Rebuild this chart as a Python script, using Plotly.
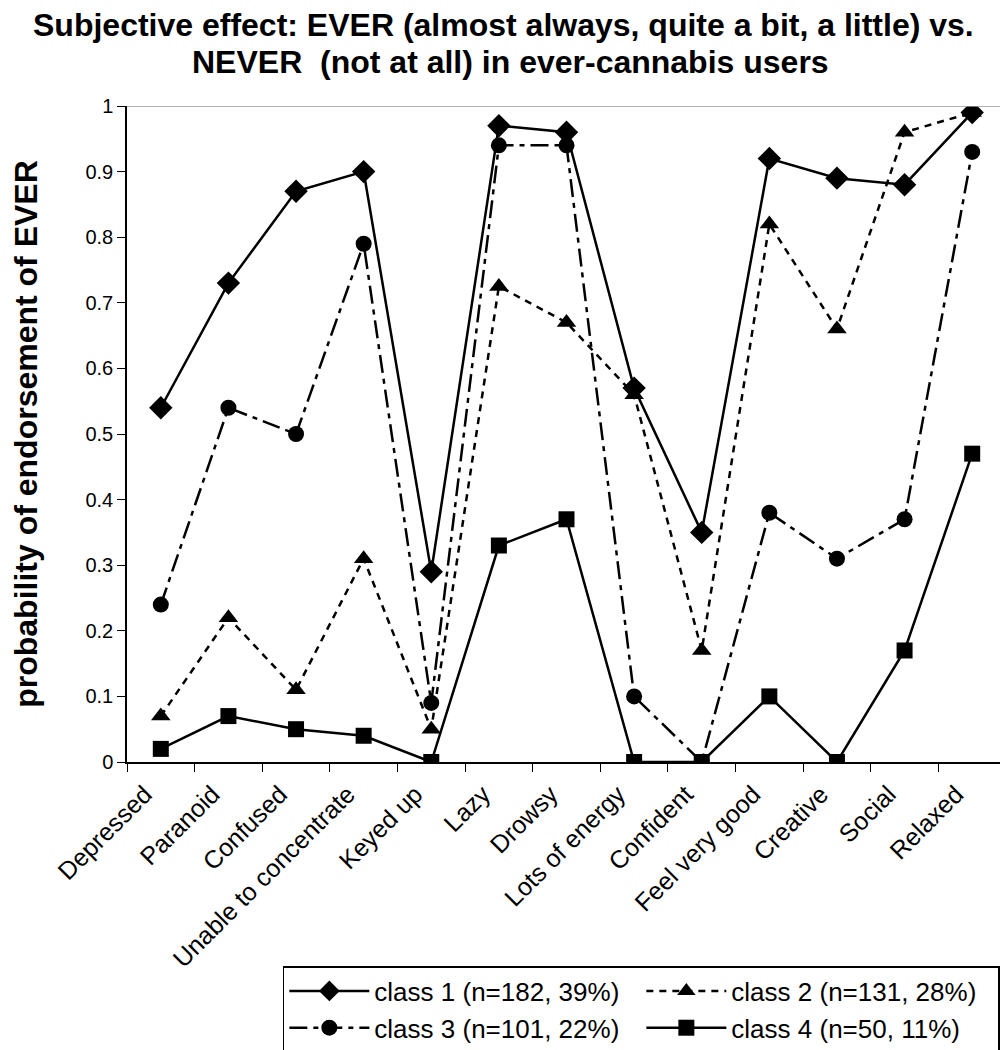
import plotly.graph_objects as go

categories = ["Depressed", "Paranoid", "Confused", "Unable to concentrate", "Keyed up",
              "Lazy", "Drowsy", "Lots of energy", "Confident", "Feel very good",
              "Creative", "Social", "Relaxed"]
class1 = [0.54, 0.73, 0.87, 0.90, 0.29, 0.97, 0.96, 0.57, 0.35, 0.92, 0.89, 0.88, 0.99]
class2 = [0.07, 0.22, 0.11, 0.31, 0.05, 0.725, 0.67, 0.56, 0.17, 0.82, 0.66, 0.96, 0.99]
class3 = [0.24, 0.54, 0.50, 0.79, 0.09, 0.94, 0.94, 0.10, 0.00, 0.38, 0.31, 0.37, 0.93]
class4 = [0.02, 0.07, 0.05, 0.04, 0.00, 0.33, 0.37, 0.00, 0.00, 0.10, 0.00, 0.17, 0.47]
names = ["class 1 (n=182, 39%)", "class 2 (n=131, 28%)",
         "class 3 (n=101, 22%)", "class 4 (n=50, 11%)"]
y_ticks = [0, 0.1, 0.2, 0.3, 0.4, 0.5, 0.6, 0.7, 0.8, 0.9, 1]
y_ticklabels = ["0", "0.1", "0.2", "0.3", "0.4", "0.5", "0.6", "0.7", "0.8", "0.9", "1"]
title_line1 = "<b>Subjective effect: EVER (almost always, quite a bit, a little) vs.</b>"
title_line2 = "<b>NEVER  (not at all) in ever-cannabis users</b>"
y_title = "<b>probability of endorsement of EVER</b>"

series = [
    (class1, names[0], "solid", "diamond", 18),
    (class2, names[1], "7px,6px", "triangle-up", 17),
    (class3, names[2], "18px,6px,5px,6px", "circle", 16),
    (class4, names[3], "solid", "square", 16),
]

fig = go.Figure()
for vals, nm, dash, sym, sz in series:
    fig.add_trace(go.Scatter(
        x=categories, y=vals, name=nm, mode="lines+markers",
        line=dict(color="black", width=2.5, dash=dash),
        marker=dict(symbol=sym, size=sz, color="black"),
    ))

fig.add_shape(type="line", xref="paper", yref="y", x0=0, x1=1, y0=1, y1=1,
              line=dict(color="#999999", width=1.5))

title_font = dict(size=32, family="Liberation Sans, Arial, sans-serif", color="black")
fig.add_annotation(text=title_line1, xref="paper", yref="paper", x=0.428, y=1.1235,
                   xanchor="center", yanchor="middle", showarrow=False, font=title_font)
fig.add_annotation(text=title_line2, xref="paper", yref="paper", x=0.436, y=1.067,
                   xanchor="center", yanchor="middle", showarrow=False, font=title_font)

fig.update_layout(
    width=1000, height=1042,
    paper_bgcolor="white", plot_bgcolor="white",
    margin=dict(l=119, r=2, t=98, b=288, autoexpand=False),
    font=dict(family="Liberation Sans, Arial, sans-serif", color="black"),
    showlegend=True,
    legend=dict(
        orientation="h", x=0.993, xanchor="right", y=-0.311, yanchor="top",
        bordercolor="black", borderwidth=1.5, bgcolor="white",
        entrywidth=262, entrywidthmode="pixels", itemwidth=80,
        font=dict(size=26),
    ),
    xaxis=dict(
        type="category", range=[-0.5, 12.5],
        showline=True, linecolor="black", linewidth=1.5,
        ticks="outside", tickson="boundaries", ticklen=8, tickcolor="black",
        tickangle=-45, tickfont=dict(size=25), showgrid=False, zeroline=False,
        ticklabelshift=-16, ticklabelstandoff=6,
    ),
    yaxis=dict(
        range=[0, 1], tickvals=y_ticks, ticktext=y_ticklabels,
        showline=True, linecolor="black", linewidth=1.5,
        ticks="outside", ticklen=8, tickcolor="black",
        tickfont=dict(size=20), showgrid=False, zeroline=False,
        title=dict(text=y_title, font=dict(size=32), standoff=40),
    ),
)

fig.write_html("out.html")
